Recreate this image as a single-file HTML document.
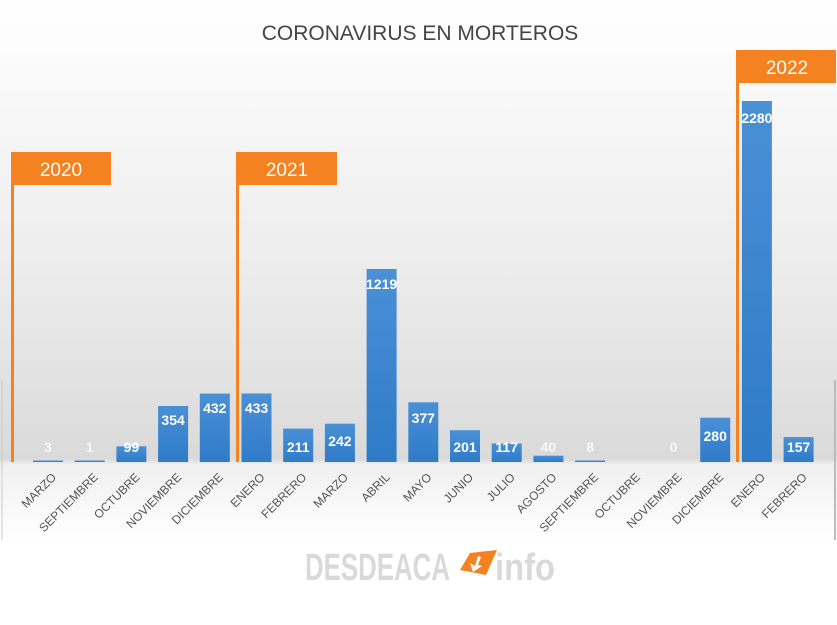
<!DOCTYPE html>
<html><head><meta charset="utf-8"><style>
body{margin:0;width:837px;height:620px;overflow:hidden;background:#fff;font-family:"Liberation Sans",sans-serif}
</style></head><body>
<svg width="837" height="620" xmlns="http://www.w3.org/2000/svg">
<defs>
<linearGradient id="bg" x1="0" y1="0" x2="0" y2="1">
<stop offset="0" stop-color="#ffffff"/>
<stop offset="0.5" stop-color="#ececec"/>
<stop offset="0.85" stop-color="#dadada"/>
<stop offset="0.86" stop-color="#f0f0f0"/>
<stop offset="1" stop-color="#ffffff"/>
</linearGradient>
<linearGradient id="bar" x1="0" y1="0" x2="0" y2="1">
<stop offset="0" stop-color="#4a90d6"/>
<stop offset="1" stop-color="#2f7bc8"/>
</linearGradient>
</defs>
<rect x="0" y="0" width="837" height="540" fill="url(#bg)"/>
<line x1="835" y1="380" x2="835" y2="540" stroke="#bbb" stroke-width="2"/>
<line x1="2" y1="380" x2="2" y2="540" stroke="#ccc" stroke-width="1"/>
<text x="420" y="40" text-anchor="middle" font-size="21" fill="#444">CORONAVIRUS EN MORTEROS</text>
<g fill="url(#bar)">
<rect x="33" y="460.5" width="30" height="1.5"/>
<rect x="74.7" y="460.5" width="30" height="1.5"/>
<rect x="116.4" y="446.3" width="30" height="15.7"/>
<rect x="158.1" y="406" width="30" height="56"/>
<rect x="199.8" y="393.6" width="30" height="68.4"/>
<rect x="241.5" y="393.5" width="30" height="68.5"/>
<rect x="283.2" y="428.6" width="30" height="33.4"/>
<rect x="324.9" y="423.7" width="30" height="38.3"/>
<rect x="366.6" y="269" width="30" height="193"/>
<rect x="408.3" y="402.3" width="30" height="59.7"/>
<rect x="450" y="430.2" width="30" height="31.8"/>
<rect x="491.7" y="443.5" width="30" height="18.5"/>
<rect x="533.4" y="455.7" width="30" height="6.3"/>
<rect x="575.1" y="460.5" width="30" height="1.5"/>
<rect x="700.2" y="417.7" width="30" height="44.3"/>
<rect x="741.9" y="101" width="30" height="361"/>
<rect x="783.6" y="437.1" width="30" height="24.9"/>
</g>
<g font-size="14" font-weight="bold" fill="#fff" text-anchor="middle">
<text x="48" y="452" fill-opacity="0.8">3</text>
<text x="89.7" y="452" fill-opacity="0.8">1</text>
<text x="131.4" y="452">99</text>
<text x="173.1" y="425">354</text>
<text x="214.8" y="413">432</text>
<text x="256.5" y="413">433</text>
<text x="298.2" y="452">211</text>
<text x="339.9" y="446">242</text>
<text x="381.6" y="289">1219</text>
<text x="423.3" y="423">377</text>
<text x="465" y="452">201</text>
<text x="506.7" y="452">117</text>
<text x="548.4" y="452" fill-opacity="0.8">40</text>
<text x="590.1" y="452" fill-opacity="0.8">8</text>
<text x="673.5" y="452" fill-opacity="0.8">0</text>
<text x="715.2" y="441">280</text>
<text x="756.9" y="123">2280</text>
<text x="798.6" y="452">157</text>
</g>
<g font-size="12" fill="#555" text-anchor="end">
<text transform="translate(57,478) rotate(-45)">MARZO</text>
<text transform="translate(98.7,478) rotate(-45)">SEPTIEMBRE</text>
<text transform="translate(140.4,478) rotate(-45)">OCTUBRE</text>
<text transform="translate(182.1,478) rotate(-45)">NOVIEMBRE</text>
<text transform="translate(223.8,478) rotate(-45)">DICIEMBRE</text>
<text transform="translate(265.5,478) rotate(-45)">ENERO</text>
<text transform="translate(307.2,478) rotate(-45)">FEBRERO</text>
<text transform="translate(348.9,478) rotate(-45)">MARZO</text>
<text transform="translate(390.6,478) rotate(-45)">ABRIL</text>
<text transform="translate(432.3,478) rotate(-45)">MAYO</text>
<text transform="translate(474,478) rotate(-45)">JUNIO</text>
<text transform="translate(515.7,478) rotate(-45)">JULIO</text>
<text transform="translate(557.4,478) rotate(-45)">AGOSTO</text>
<text transform="translate(599.1,478) rotate(-45)">SEPTIEMBRE</text>
<text transform="translate(640.8,478) rotate(-45)">OCTUBRE</text>
<text transform="translate(682.5,478) rotate(-45)">NOVIEMBRE</text>
<text transform="translate(724.2,478) rotate(-45)">DICIEMBRE</text>
<text transform="translate(765.9,478) rotate(-45)">ENERO</text>
<text transform="translate(807.6,478) rotate(-45)">FEBRERO</text>
</g>
<g fill="#f58220">
<rect x="11" y="152" width="3" height="310"/><rect x="11" y="152" width="100" height="33"/>
<rect x="236" y="152" width="3" height="310"/><rect x="236" y="152" width="101" height="33"/>
<rect x="736" y="50" width="3" height="412"/><rect x="736" y="50" width="100" height="33"/>
</g>
<g fill="#fff" font-size="19" text-anchor="middle">
<text x="61" y="176">2020</text><text x="287" y="176">2021</text><text x="787" y="74">2022</text>
</g>
<g font-weight="bold" font-size="38" fill="#d9d9d9">
<text x="305" y="580" textLength="145" lengthAdjust="spacingAndGlyphs">DESDEACA</text>
<text x="495" y="580" textLength="60" lengthAdjust="spacingAndGlyphs">info</text>
</g>
<path d="M470 553 L497 550 L486 575 L460 570 Z" fill="#f58220"/>
<path d="M478 556 L475 566 L470 563 L473 572 L482 566 L478 565 L481 557 Z" fill="#fff"/>
</svg>
</body></html>
